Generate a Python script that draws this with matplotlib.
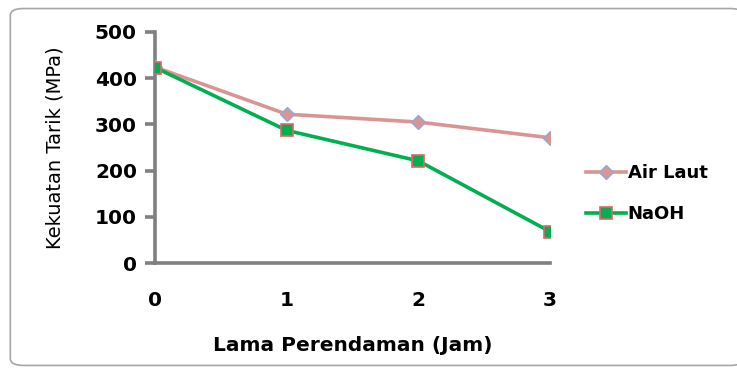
import matplotlib.pyplot as plt
from matplotlib.patches import FancyBboxPatch

jam = [0, 1, 2, 3]
air_laut = [424, 322, 305, 271]
naoh = [423, 287, 221, 68]

fig = plt.figure(figsize=(7.37, 3.71), dpi=100)
# rounded chart border (drawn under the axes)
fig.patches.append(FancyBboxPatch((0.014, 0.015), 0.995, 0.962, boxstyle="round,pad=0,rounding_size=0.018",
                                  transform=fig.transFigure, facecolor='white', edgecolor='#a6a6a6',
                                  linewidth=1.2, zorder=-1))
ax = fig.add_axes([0.2103, 0.291, 0.536, 0.623])
ax.set_facecolor('none')

ax.plot(jam, air_laut, color='#d99594', lw=2.6, marker='D', ms=7, mfc='#d99594', mec='#8eaadb',
        mew=1, label='Air Laut', zorder=3)
ax.plot(jam, naoh, color='#00b050', lw=2.6, marker='s', ms=9, mfc='#00b050', mec='#e06666',
        mew=1.2, label='NaOH', zorder=4)

ax.set_xlim(0, 3)
ax.set_ylim(0, 500)
ax.set_yticks(range(0, 501, 100))
ax.set_xticks(jam)
for s in ['top', 'right']:
    ax.spines[s].set_visible(False)
for s in ['left', 'bottom']:
    ax.spines[s].set_color('#808080')
    ax.spines[s].set_linewidth(2.6)
ax.tick_params(axis='y', length=7, width=2.6, color='#808080', pad=6, labelsize=14.5)
ax.tick_params(axis='x', length=0, pad=20, labelsize=14.5)
for t in ax.get_xticklabels() + ax.get_yticklabels():
    t.set_fontweight('bold')

ax.set_ylabel('Kekuatan Tarik (MPa)', fontsize=14, labelpad=22)
ax.set_xlabel('Lama Perendaman (Jam)', fontsize=14.5, fontweight='semibold', labelpad=19)

ax.legend(loc='center left', bbox_to_anchor=(1.05, 0.30), frameon=False,
          handlelength=2.2, handletextpad=0.1, labelspacing=1.25, prop={'weight': 'semibold', 'size': 13})

fig.savefig('out.png', dpi=100)
